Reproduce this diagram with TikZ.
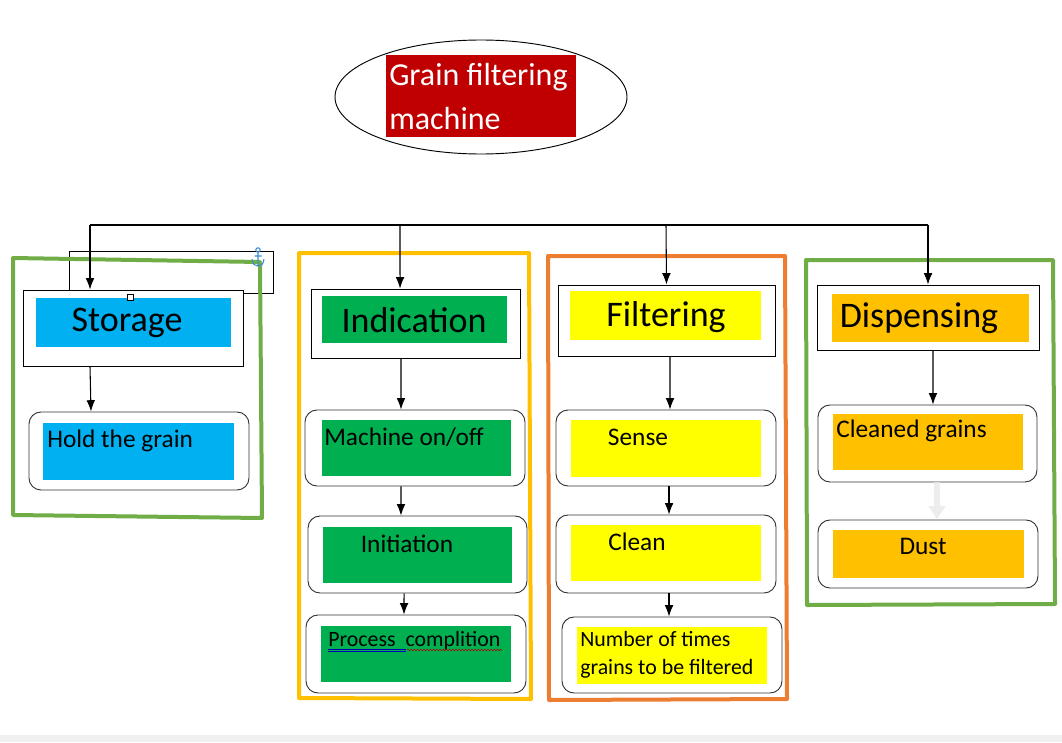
\documentclass[tikz,border=0pt]{standalone}
\usepackage{fontspec}
\setmainfont{Carlito}
\usetikzlibrary{arrows.meta,shapes.geometric,decorations.pathmorphing}
\definecolor{titlered}{HTML}{C00000}
\definecolor{skyblue}{HTML}{00B0F0}
\definecolor{leafgreen}{HTML}{00B050}
\definecolor{lemon}{HTML}{FFFF00}
\definecolor{amber}{HTML}{FFC000}
\definecolor{framegreen}{HTML}{70AD47}
\definecolor{frameorange}{HTML}{ED7D31}
\definecolor{anchorblue}{HTML}{3C8DD0}

\begin{document}
\begin{tikzpicture}[x=0.75pt, y=-0.75pt, >={Latex[length=8.5pt,width=6.5pt]},
    head/.style={draw, rectangle, fill=white, line width=0.7pt, inner sep=0pt},
    item/.style={draw=black!80, rectangle, fill=white, rounded corners=9pt, line width=0.7pt, inner sep=0pt},
    patch/.style={rectangle, inner sep=0pt},
    headtext/.style={font=\fontsize{27}{32}\selectfont, inner sep=0pt},
    itemtext/.style={font=\fontsize{19}{23}\selectfont, inner sep=0pt},
    link/.style={->, line width=0.8pt},
    frame/.style={line width=3pt, line join=round}]
    \useasboundingbox (0,0) rectangle (1062,742);
    \fill[black!6] (0,735) rectangle (1062,742);

    % Title
    \node[draw, ellipse, line width=0.7pt, minimum width=219pt, minimum height=85.5pt] (title) at (481,97) {};
    \node[patch, fill=titlered, minimum width=142.5pt, minimum height=61.5pt] (titlepatch) at (481,96) {};
    \node[anchor=west, align=left, text=white, inner sep=0pt, font=\fontsize{24}{33}\selectfont] (titletext) at (389,97) {Grain filtering\\machine};

    % Frames
    \draw[line width=0.7pt] (69,251) rectangle (273,293);
    \draw[frame, draw=framegreen] (13,258) -- (260,262) -- (262,518) -- (13,515) -- cycle;
    \draw[frame, draw=amber] (299,253) -- (529,253) -- (531,699) -- (299,698) -- cycle;
    \draw[frame, draw=frameorange] (548,256) -- (785,256) -- (787,699) -- (549,700) -- cycle;
    \draw[frame, draw=framegreen] (806,260) -- (1053,260) -- (1055,604) -- (807,605) -- cycle;
    % anchor mark
    \draw[anchorblue, line width=0.8pt] (258,250) circle[radius=2.2];
    \draw[anchorblue, line width=0.8pt] (258,252.5) -- (258,266)
        (254.5,256) -- (261.5,256)
        (252,259) .. controls (252.5,264.5) and (255,266) .. (258,266)
        .. controls (261,266) and (263.5,264.5) .. (264,259);

    % Storage
    \node[head, minimum width=165pt, minimum height=57pt] (storagehead) at (133,328) {};
    \node[patch, fill=skyblue, minimum width=146.25pt, minimum height=36.75pt] (storagepatch) at (133.5,322.5) {};
    \node[headtext] (storagetext) at (127,323) {Storage};
    \node[draw, fill=white, line width=0.5pt, minimum size=4.5pt, inner sep=0pt] (handle) at (130,297) {};
    \node[item, minimum width=165pt, minimum height=58.5pt] (hold) at (139,451) {};
    \node[patch, fill=skyblue, minimum width=143.25pt, minimum height=42.75pt] (holdpatch) at (138.5,451.5) {};
    \node[itemtext, anchor=west] (holdtext) at (47,441) {Hold the grain};

    % Indication
    \node[head, minimum width=156.75pt, minimum height=51.75pt] (indhead) at (415.5,323.5) {};
    \node[patch, fill=leafgreen, minimum width=138.75pt, minimum height=35.25pt] (indpatch) at (414.5,319.5) {};
    \node[headtext] (indtext) at (414,320) {Indication};
    \node[item, minimum width=165pt, minimum height=57pt] (machine) at (415,448) {};
    \node[patch, fill=leafgreen, minimum width=141.75pt, minimum height=42pt] (machinepatch) at (416.5,448) {};
    \node[itemtext, anchor=west] (machinetext) at (324,437) {Machine on/off};
    \node[item, minimum width=164.25pt, minimum height=57.75pt] (init) at (417.5,554.5) {};
    \node[patch, fill=leafgreen, minimum width=141.75pt, minimum height=42pt] (initpatch) at (417.5,555) {};
    \node[itemtext] (inittext) at (407,544) {Initiation};
    \node[item, minimum width=165pt, minimum height=58.5pt] (proc) at (416,654) {};
    \node[patch, fill=leafgreen, minimum width=142.5pt, minimum height=42pt] (procpatch) at (416,654) {};
    \node[anchor=west, inner sep=0pt, font=\fontsize{16.4}{20}\selectfont] (proctext) at (328,641) {Process~~complition};
    \draw[blue!70!black, line width=0.4pt] (328,649) -- (406,649) (328,651) -- (406,651);
    \draw[red!70!black, line width=0.4pt, decorate, decoration={snake, amplitude=0.6pt, segment length=2.4pt}] (407,650) -- (502,650);

    % Filtering
    \node[head, minimum width=162.75pt, minimum height=53.25pt] (filthead) at (666.5,320.5) {};
    \node[patch, fill=lemon, minimum width=143.25pt, minimum height=36.75pt] (filtpatch) at (665.5,315.5) {};
    \node[headtext] (filttext) at (666,317) {Filtering};
    \node[item, minimum width=165pt, minimum height=57pt] (sense) at (666,448) {};
    \node[patch, fill=lemon, minimum width=142.5pt, minimum height=42.75pt] (sensepatch) at (666,448.5) {};
    \node[itemtext] (sensetext) at (638,437) {Sense};
    \node[item, minimum width=165pt, minimum height=58.5pt] (clean) at (666,554) {};
    \node[patch, fill=lemon, minimum width=142.5pt, minimum height=42pt] (cleanpatch) at (666,553) {};
    \node[itemtext] (cleantext) at (637,542) {Clean};
    \node[item, minimum width=165pt, minimum height=57pt] (times) at (672,655) {};
    \node[patch, fill=lemon, minimum width=142.5pt, minimum height=42.75pt] (timespatch) at (672,655.5) {};
    \node[anchor=west, align=left, inner sep=0pt, font=\fontsize{16.4}{21}\selectfont] (timestext) at (580,655) {Number of times\\grains to be filtered};

    % Dispensing
    \node[head, minimum width=166.5pt, minimum height=48.75pt] (disphead) at (928,317.5) {};
    \node[patch, fill=amber, minimum width=147.75pt, minimum height=36pt] (disppatch) at (930.5,318) {};
    \node[headtext] (disptext) at (919,318) {Dispensing};
    \node[item, minimum width=164.25pt, minimum height=57.75pt] (cleaned) at (927.5,443.5) {};
    \node[patch, fill=amber, minimum width=142.5pt, minimum height=42pt] (cleanedpatch) at (928,442) {};
    \node[itemtext, anchor=west] (cleanedtext) at (836,431) {Cleaned grains};
    \node[item, minimum width=165pt, minimum height=51pt] (dust) at (928,554) {};
    \node[patch, fill=amber, minimum width=143.25pt, minimum height=36pt] (dustpatch) at (928.5,554) {};
    \node[itemtext] (dusttext) at (923,546) {Dust};

    % Edges
    \coordinate (b1) at (90,225);
    \coordinate (b2) at (400,225);
    \coordinate (b3) at (666,225);
    \coordinate (b4) at (928,225);
    \draw[line width=0.8pt] (b1) -- (b4);
    \draw[link] (b1) -- ([xshift=-32.25pt]storagehead.north);
    \draw[link] (b2) -- ([xshift=-11.6pt]indhead.north);
    \draw[link] (b3) -- (filthead.north);
    \draw[link] (b4) -- (disphead.north);
    \draw[link] ([xshift=-32.25pt]storagehead.south) -- ([xshift=-36pt]hold.north);
    \draw[link] ([xshift=-10.9pt]indhead.south) -- ([xshift=-10.5pt]machine.north);
    \draw[link] ([xshift=-10.5pt]machine.south) -- ([xshift=-12.4pt]init.north);
    \draw[link] ([xshift=-10.1pt]init.south) -- ([xshift=-9pt]proc.north);
    \draw[link] ([xshift=2.6pt]filthead.south) -- ([xshift=3pt]sense.north);
    \draw[link] ([xshift=2.25pt]sense.south) -- ([xshift=2.25pt]clean.north);
    \draw[link] ([xshift=2.25pt]clean.south) -- ([xshift=-2.25pt]times.north);
    \draw[link] ([xshift=3.75pt]disphead.south) -- ([xshift=4.1pt]cleaned.north);
    \draw[-{Triangle[length=10pt,width=12pt]}, line width=4.5pt, draw=black!7] ([xshift=7.1pt]cleaned.south) -- ([xshift=6.75pt]dust.north);
\end{tikzpicture}
\end{document}
